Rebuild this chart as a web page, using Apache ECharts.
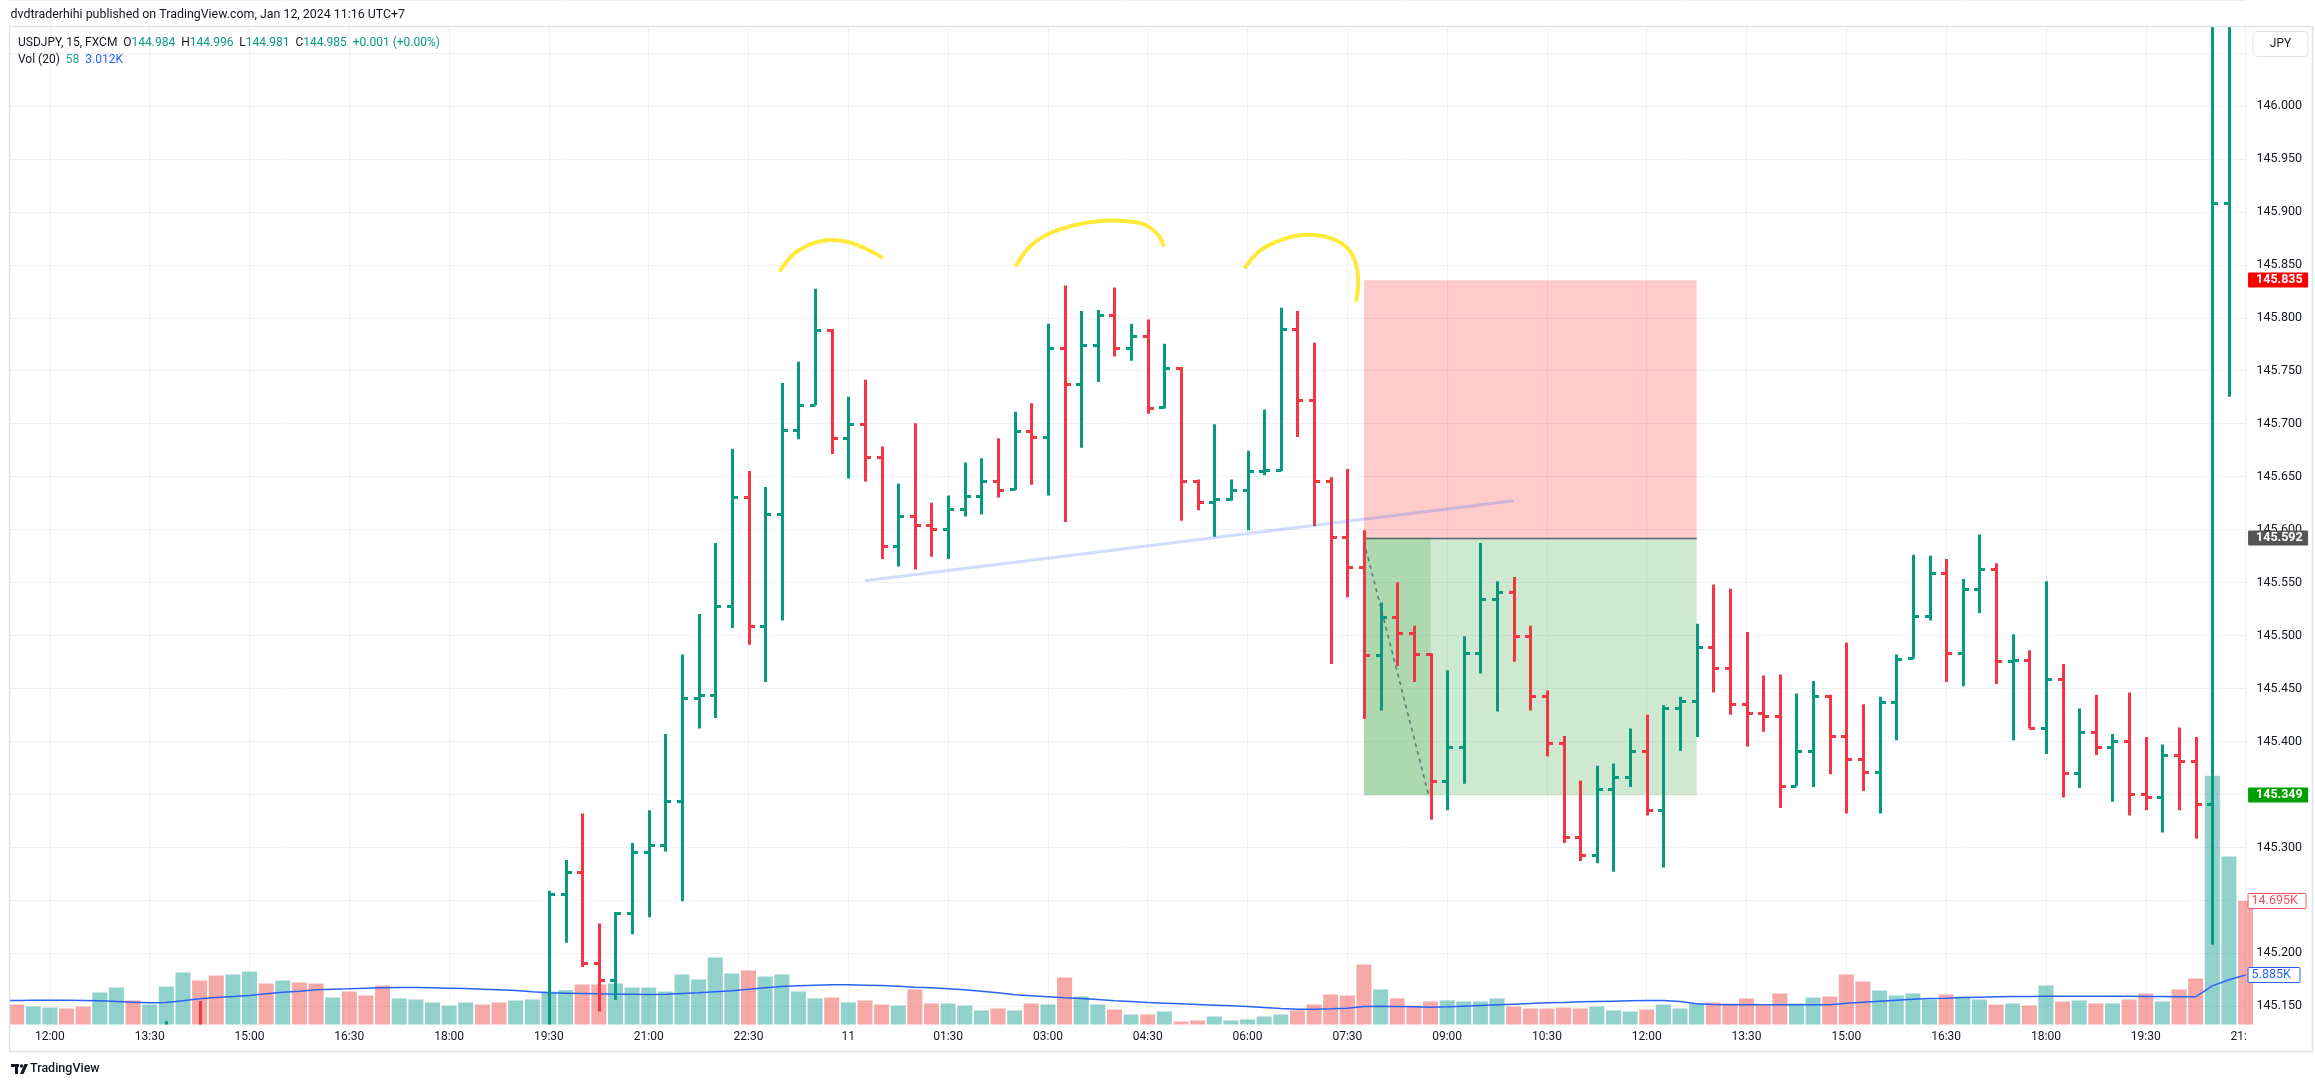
<!DOCTYPE html>
<html>
<head>
<meta charset="utf-8">
<title>USDJPY, 15, FXCM</title>
<script src="https://cdn.jsdelivr.net/npm/echarts/dist/echarts.min.js"></script>
<style>
html,body{margin:0;padding:0;background:#ffffff;overflow:hidden}
#chart{width:2315px;height:1087px}
</style>
</head>
<body>
<div id="chart"></div>
<script>
// ---------------- DATA ----------------
// 15-minute bars, 2024-01-10 11:15 .. 2024-01-11 21:00 (UTC+7)
const categories = [];
for (let k = 0; k < 136; k++) {
  const m = 11 * 60 + 15 + 15 * k;
  const day = 10 + Math.floor(m / 1440);
  const t = m % 1440;
  categories.push('01-' + day + ' ' + String(Math.floor(t / 60)).padStart(2, '0') + ':' + String(t % 60).padStart(2, '0'));
}
const tickCategories = ['01-10 12:00','01-10 13:30','01-10 15:00','01-10 16:30','01-10 18:00','01-10 19:30','01-10 21:00','01-10 22:30','01-11 00:00','01-11 01:30','01-11 03:00','01-11 04:30','01-11 06:00','01-11 07:30','01-11 09:00','01-11 10:30','01-11 12:00','01-11 13:30','01-11 15:00','01-11 16:30','01-11 18:00','01-11 19:30','01-11 21:00'];
const tickLabels = ['12:00','13:30','15:00','16:30','18:00','19:30','21:00','22:30','11','01:30','03:00','04:30','06:00','07:30','09:00','10:30','12:00','13:30','15:00','16:30','18:00','19:30','21:00'];

const opens = [
 null,null,null,null,null,null,null,null,null,null,
 145.095,null,145.120,null,null,null,null,null,null,null,
 null,null,null,null,null,null,null,null,null,null,
 null,null,null,145.080,145.256,145.277,145.191,145.175,145.238,145.296,
 145.302,145.344,145.441,145.444,145.528,145.630,145.509,145.614,145.694,145.717,
 145.788,145.686,145.699,145.668,145.584,145.613,145.604,145.600,145.619,145.631,
 145.646,145.638,145.693,145.687,145.771,145.737,145.774,145.802,145.771,145.782,
 145.715,145.752,145.646,145.626,145.629,145.637,145.655,145.656,145.789,145.722,
 145.646,145.593,145.564,145.481,145.517,145.502,145.482,145.363,145.395,145.483,
 145.534,145.541,145.499,145.443,145.398,145.310,145.293,145.355,145.366,145.391,
 145.335,145.431,145.438,145.489,145.469,145.435,145.427,145.424,145.358,145.391,
 145.443,145.405,145.383,145.371,145.437,145.479,145.518,145.559,145.483,145.544,
 145.563,145.476,145.477,145.413,145.459,145.370,145.409,145.395,145.400,145.350,
 145.347,145.387,145.381,145.341,145.908,null];
const highs = [
 null,null,null,null,null,null,null,null,null,null,
 145.136,null,145.155,null,null,null,null,null,null,null,
 null,null,null,null,null,null,null,null,null,null,
 null,null,null,145.259,145.288,145.332,145.228,145.239,145.304,145.335,
 145.407,145.482,145.520,145.587,145.676,145.655,145.640,145.738,145.758,145.827,
 145.789,145.725,145.741,145.678,145.643,145.700,145.625,145.632,145.663,145.667,
 145.686,145.711,145.719,145.794,145.830,145.806,145.807,145.828,145.794,145.798,
 145.775,145.753,145.647,145.699,145.647,145.674,145.713,145.809,145.806,145.776,
 145.649,145.657,145.599,145.531,145.550,145.509,145.483,145.467,145.499,145.587,
 145.551,145.555,145.509,145.448,145.405,145.363,145.377,145.379,145.412,145.425,
 145.434,145.442,145.511,145.548,145.544,145.503,145.462,145.463,145.445,145.457,
 145.444,145.493,145.435,145.442,145.482,145.576,145.575,145.572,145.553,145.595,
 145.568,145.501,145.486,145.551,145.473,145.431,145.444,145.407,145.446,145.404,
 145.397,145.413,145.404,146.400,146.350,null];
const lows = [
 null,null,null,null,null,null,null,null,null,null,
 145.060,null,145.070,null,null,null,null,null,null,null,
 null,null,null,null,null,null,null,null,null,null,
 null,null,null,145.060,145.210,145.187,145.145,145.156,145.218,145.234,
 145.296,145.249,145.412,145.422,145.507,145.491,145.456,145.514,145.685,145.717,
 145.671,145.648,145.645,145.572,145.565,145.562,145.574,145.572,145.612,145.614,
 145.630,145.637,145.642,145.632,145.607,145.677,145.739,145.763,145.759,145.709,
 145.714,145.608,145.618,145.593,145.627,145.599,145.651,145.655,145.687,145.603,
 145.473,145.536,145.421,145.429,145.471,145.456,145.326,145.335,145.360,145.464,
 145.428,145.475,145.429,145.386,145.304,145.287,145.285,145.277,145.357,145.330,
 145.281,145.391,145.404,145.446,145.425,145.395,145.409,145.337,145.358,145.357,
 145.369,145.332,145.353,145.332,145.401,145.478,145.514,145.456,145.452,145.521,
 145.454,145.401,145.412,145.388,145.347,145.356,145.387,145.343,145.330,145.335,
 145.314,145.335,145.308,145.208,145.725,null];
const closes = [
 null,null,null,null,null,null,null,null,null,null,
 145.110,null,145.090,null,null,null,null,null,null,null,
 null,null,null,null,null,null,null,null,null,null,
 null,null,null,145.256,145.277,145.191,145.175,145.238,145.296,145.302,
 145.344,145.441,145.444,145.528,145.630,145.509,145.614,145.694,145.717,145.788,
 145.686,145.699,145.668,145.584,145.613,145.604,145.600,145.619,145.631,145.646,
 145.637,145.693,145.687,145.771,145.737,145.774,145.802,145.771,145.782,145.714,
 145.752,145.646,145.626,145.629,145.637,145.655,145.656,145.789,145.722,145.646,
 145.593,145.564,145.481,145.517,145.502,145.482,145.363,145.395,145.483,145.534,
 145.541,145.499,145.443,145.398,145.310,145.293,145.355,145.366,145.391,145.335,
 145.431,145.438,145.489,145.469,145.435,145.427,145.424,145.358,145.391,145.443,
 145.405,145.383,145.371,145.437,145.478,145.518,145.559,145.483,145.544,145.563,
 145.476,145.477,145.413,145.459,145.370,145.409,145.395,145.400,145.350,145.347,
 145.387,145.381,145.341,145.908,146.150,null];

// volume in thousands
const volumes = [null,
 2.38,2.14,2.02,1.90,2.14,3.81,4.40,2.86,2.38,4.52,
 6.19,5.24,5.83,5.95,6.31,4.88,5.24,5.00,4.88,3.21,
 3.93,3.45,4.64,3.10,2.98,2.62,2.26,2.62,2.38,2.62,
 2.86,2.98,3.93,4.09,4.76,4.76,4.88,4.40,4.40,3.93,
 5.95,5.36,7.98,6.07,6.43,5.71,5.95,3.93,3.10,3.21,
 2.62,2.86,2.38,2.26,4.17,2.50,2.50,2.26,1.67,1.90,
 1.67,2.50,2.38,5.60,3.33,2.38,1.79,1.19,1.19,1.55,
 0.36,0.48,0.95,0.48,0.60,0.95,1.19,1.67,2.38,3.57,
 3.45,7.14,4.17,3.10,2.26,2.74,2.86,2.74,2.74,3.10,
 2.14,1.90,1.90,2.02,1.90,2.14,1.67,1.55,1.79,2.38,
 1.90,2.50,2.62,2.50,3.10,2.26,3.69,2.50,3.21,3.33,
 5.95,5.12,4.05,3.45,3.69,2.98,3.57,3.33,2.98,2.38,
 2.50,2.26,4.64,2.74,2.86,2.50,2.50,2.98,3.69,2.74,
 4.17,5.48,29.6,20.0,14.695];
// u = up bar, d = down bar
const volumeDirection = ['-'].concat((
 'duudduuduu' + 'udduududdu' + 'ddduuuuudd' + 'uuuudduuuu' + 'uuuuduuuud' +
 'uddudduuud' + 'ududuududu' + 'dduuuuuddd' + 'dduddduuuu' + 'ddddduuudu' +
 'uuddddduud' + 'dduuuuduud' + 'ududududdu' + 'dduud').split(''));
const volumeMA = [2.86,
 2.86,2.90,2.90,2.90,2.86,2.82,2.74,2.66,2.58,2.62,
 2.82,3.06,3.21,3.33,3.45,3.65,3.85,3.97,4.13,4.21,
 4.25,4.33,4.37,4.40,4.40,4.37,4.33,4.29,4.21,4.13,
 4.05,3.89,3.77,3.73,3.69,3.65,3.61,3.61,3.57,3.61,
 3.69,3.77,3.89,4.01,4.21,4.37,4.52,4.60,4.68,4.72,
 4.72,4.68,4.64,4.56,4.44,4.37,4.25,4.13,3.97,3.77,
 3.53,3.41,3.29,3.17,3.10,2.98,2.82,2.74,2.62,2.54,
 2.46,2.38,2.30,2.22,2.14,2.02,1.90,1.83,1.83,1.87,
 1.94,2.14,2.18,2.14,2.10,2.06,2.10,2.18,2.26,2.34,
 2.42,2.50,2.58,2.62,2.70,2.74,2.78,2.82,2.86,2.86,
 2.74,2.46,2.38,2.34,2.34,2.34,2.34,2.34,2.34,2.34,
 2.54,2.66,2.78,2.90,3.02,3.10,3.13,3.21,3.25,3.29,
 3.33,3.33,3.37,3.37,3.37,3.37,3.37,3.37,3.33,3.33,
 3.29,3.29,4.60,5.32,5.885];

// price-axis ticks
const priceTickMin = 145.15, priceTickMax = 146.10, priceTickStep = 0.05;

// drawings (x = category index, y = price)
const positionEntry = 145.592, positionStop = 145.835, positionTarget = 145.349;
const positionSpan = [82, 102];
const positionFilled = [82, 86];
const positionPath = [[82.12, 145.581], [85.89, 145.349]];
const necklinePoints = [[52, 145.5515], [91, 145.627]];
const arcs = [
 [[46.92,145.8446],[47.65,145.8588],[48.61,145.8682],[49.81,145.8729],[51.01,145.8710],[52.09,145.8644],[52.99,145.8569]],
 [[61.11,145.8493],[61.95,145.8673],[63.15,145.8795],[64.65,145.8871],[66.16,145.8908],[67.66,145.8908],[68.86,145.8871],[69.64,145.8776],[69.94,145.8682]],
 [[74.87,145.8475],[75.65,145.8616],[76.67,145.8710],[77.87,145.8767],[79.08,145.8776],[80.16,145.8738],[81.0,145.8654],[81.48,145.8522],[81.66,145.8352],[81.54,145.8163]]
];

// header / legend texts
const headerText = 'dvdtraderhihi published on TradingView.com, Jan 12, 2024 11:16 UTC+7';
const legendSymbol = 'USDJPY, 15, FXCM';
const legendOHLC = ['144.984', '144.996', '144.981', '144.985'];
const legendChange = '+0.001 (+0.00%)';
const legendVol = ['Vol (20)', '58', '3.012K'];

// ---------------- STYLE / LAYOUT ----------------
const FONT = 'Roboto, "Noto Sans", sans-serif';
const TEXT = '#131722';
const UP = '#089981', DOWN = '#f23645';
const VOL_UP = 'rgba(38,166,154,0.5)', VOL_DOWN = 'rgba(239,83,80,0.5)';
const GRID = '#f0f1f3';
const LEFT = -0.84, STEP = 16.64;
const PX_PER_YEN = 1060, AXIS_TOP = -0.7;
const PANE_TOP = 27, PANE_BOTTOM = 1024.5;
const VOL_PX_PER_K = 8.4;
const PLOT_W = STEP * (categories.length - 1);
const P_TOP = priceTickMax - (PANE_TOP - AXIS_TOP) / PX_PER_YEN;
const P_BOT = priceTickMax - (PANE_BOTTOM - AXIS_TOP) / PX_PER_YEN;

const tickSet = new Set(tickCategories);
const tickMap = {};
tickCategories.forEach((c, i) => tickMap[c] = tickLabels[i]);

function kx(api, k, p) {
  const k0 = Math.floor(k);
  const a = api.coord([k0, p]);
  if (k === k0) return a;
  const b = api.coord([k0 + 1, p]);
  return [a[0] + (k - k0) * (b[0] - a[0]), a[1]];
}

const ohlcData = [];
for (let k = 0; k < categories.length; k++) {
  if (opens[k] != null) ohlcData.push([k, opens[k], highs[k], lows[k], closes[k]]);
}

function renderBar(params, api) {
  const k = api.value(0), o = api.value(1), h = api.value(2), l = api.value(3), c = api.value(4);
  const pt = api.coord([k, h]), pb = api.coord([k, l]);
  const yo = Math.round(api.coord([k, o])[1]) + 0.5;
  const yc = Math.round(api.coord([k, c])[1]) + 0.5;
  const x = Math.round(pt[0]) + 0.5;
  const st = { stroke: c >= o ? UP : DOWN, lineWidth: 3, lineCap: 'butt' };
  return { type: 'group', children: [
    { type: 'line', shape: { x1: x, y1: pt[1], x2: x, y2: pb[1] }, style: st },
    { type: 'line', shape: { x1: x - 5.5, y1: yo, x2: x, y2: yo }, style: st },
    { type: 'line', shape: { x1: x, y1: yc, x2: x + 5.5, y2: yc }, style: st }
  ]};
}

const chart = echarts.init(document.getElementById('chart'), null, { renderer: 'canvas' });

const option = {
  animation: false,
  backgroundColor: '#ffffff',
  textStyle: { fontFamily: FONT },
  grid: [
    { left: LEFT, top: AXIS_TOP, width: PLOT_W, height: (priceTickMax - priceTickMin) * PX_PER_YEN },
    { left: LEFT, top: PANE_TOP, width: PLOT_W, height: PANE_BOTTOM - PANE_TOP }
  ],
  xAxis: [
    { gridIndex: 0, type: 'category', data: categories, boundaryGap: false, show: false },
    { gridIndex: 1, type: 'category', data: categories, boundaryGap: false,
      axisLine: { show: false }, axisTick: { show: false },
      axisLabel: { interval: (i, v) => tickSet.has(v), formatter: v => tickMap[v] || '',
        color: TEXT, fontSize: 12, fontFamily: FONT, margin: 6, hideOverlap: false },
      splitLine: { show: true, interval: (i, v) => tickSet.has(v), lineStyle: { color: GRID, width: 1 } } }
  ],
  yAxis: [
    { gridIndex: 0, type: 'value', position: 'right', min: priceTickMin, max: priceTickMax, interval: priceTickStep,
      axisLine: { show: false }, axisTick: { show: false },
      splitLine: { show: true, lineStyle: { color: GRID, width: 1 } },
      axisLabel: { margin: 11, color: TEXT, fontSize: 12.5, fontFamily: FONT,
        formatter: v => (v > 146.001 ? '' : v.toFixed(3)) } },
    { gridIndex: 1, type: 'value', min: P_BOT, max: P_TOP, show: false, splitLine: { show: false } },
    { gridIndex: 1, type: 'value', min: 0, max: (PANE_BOTTOM - PANE_TOP) / VOL_PX_PER_K, show: false, splitLine: { show: false } }
  ],
  series: [
    { type: 'bar', name: 'Volume', xAxisIndex: 1, yAxisIndex: 2, barWidth: 15, z: 1, silent: true,
      data: volumes.map((v, k) => v == null ? null : { value: v, itemStyle: { color: volumeDirection[k] === 'u' ? VOL_UP : VOL_DOWN } }) },
    { type: 'line', name: 'Vol MA', xAxisIndex: 1, yAxisIndex: 2, data: volumeMA, symbol: 'none', z: 2, silent: true,
      lineStyle: { color: '#2962ff', width: 1.5 } },
    { type: 'custom', name: 'Position', xAxisIndex: 1, yAxisIndex: 1, z: 1, silent: true, clip: true,
      data: [[positionSpan[0], positionEntry]], encode: { x: 0, y: 1 },
      renderItem: (params, api) => {
        const box = (k1, k2, p1, p2, fill) => {
          const a = kx(api, k1, p1), b = kx(api, k2, p2);
          return { type: 'rect', shape: { x: a[0], y: Math.min(a[1], b[1]), width: b[0] - a[0], height: Math.abs(b[1] - a[1]) }, style: { fill } };
        };
        const e1 = kx(api, positionSpan[0], positionEntry), e2 = kx(api, positionSpan[1], positionEntry);
        return { type: 'group', children: [
          box(positionSpan[0], positionSpan[1], positionStop, positionEntry, 'rgba(255,82,82,0.3)'),
          box(positionSpan[0], positionSpan[1], positionEntry, positionTarget, 'rgba(76,175,80,0.27)'),
          box(positionFilled[0], positionFilled[1], positionEntry, positionTarget, 'rgba(76,175,80,0.27)'),
          { type: 'line', shape: { x1: e1[0], y1: Math.round(e1[1]) + 0.5, x2: e2[0], y2: Math.round(e2[1]) + 0.5 }, style: { stroke: '#5d606b', lineWidth: 1.5 } }
        ]};
      } },
    { type: 'custom', name: 'USDJPY', xAxisIndex: 1, yAxisIndex: 1, z: 3, silent: true, clip: true,
      data: ohlcData, encode: { x: 0, y: [1, 2, 3, 4] }, renderItem: renderBar },
    { type: 'custom', name: 'Drawings', xAxisIndex: 1, yAxisIndex: 1, z: 4, silent: true, clip: true,
      data: [[necklinePoints[0][0], necklinePoints[0][1]]], encode: { x: 0, y: 1 },
      renderItem: (params, api) => {
        const ch = [];
        const n1 = kx(api, necklinePoints[0][0], necklinePoints[0][1]), n2 = kx(api, necklinePoints[1][0], necklinePoints[1][1]);
        ch.push({ type: 'line', shape: { x1: n1[0], y1: n1[1], x2: n2[0], y2: n2[1] }, style: { stroke: 'rgba(41,98,255,0.22)', lineWidth: 3 } });
        const d1 = kx(api, positionPath[0][0], positionPath[0][1]), d2 = kx(api, positionPath[1][0], positionPath[1][1]);
        ch.push({ type: 'line', shape: { x1: d1[0], y1: d1[1], x2: d2[0], y2: d2[1] }, style: { stroke: '#6a6d78', lineWidth: 1.5, lineDash: [4, 4] } });
        arcs.forEach(a => ch.push({ type: 'polyline', shape: { points: a.map(p => kx(api, p[0], p[1])), smooth: 0.35 },
          style: { stroke: '#ffe93b', lineWidth: 4, lineCap: 'round', lineJoin: 'round', fill: 'none' } }));
        return { type: 'group', children: ch };
      } },
    { type: 'custom', name: 'Price tags', xAxisIndex: 1, yAxisIndex: 1, z: 20, silent: true, clip: false,
      data: [[0, positionStop], [0, positionEntry], [0, positionTarget]], encode: { x: 0, y: 1 },
      renderItem: (params, api) => {
        const p = api.value(1);
        const y = Math.round(api.coord([0, p])[1]);
        const x0 = params.coordSys.x + params.coordSys.width + 2.5;
        const fill = ['#ff0000', '#555555', '#00a000'][params.dataIndex];
        return { type: 'group', children: [
          { type: 'rect', shape: { x: x0, y: y - 7.5, width: 60, height: 15, r: 1 }, style: { fill } },
          { type: 'text', style: { text: p.toFixed(3), x: x0 + 8, y: y, fill: '#ffffff', font: 'bold 12.5px ' + FONT, align: 'left', verticalAlign: 'middle' } }
        ]};
      } },
    { type: 'custom', name: 'Volume tags', xAxisIndex: 1, yAxisIndex: 2, z: 20, silent: true, clip: false,
      data: [[0, volumes[volumes.length - 1]], [0, volumeMA[volumeMA.length - 1]]], encode: { x: 0, y: 1 },
      renderItem: (params, api) => {
        const v = api.value(1);
        const y = Math.round(api.coord([0, v])[1]);
        const x0 = params.coordSys.x + params.coordSys.width + 2;
        const col = ['#f7525f', '#2962ff'][params.dataIndex];
        const w = [58, 52][params.dataIndex];
        return { type: 'group', children: [
          { type: 'rect', shape: { x: x0 + 0.5, y: y - 7.5, width: w, height: 15, r: 1 }, style: { fill: '#ffffff', stroke: col, lineWidth: 1 } },
          { type: 'text', style: { text: v.toFixed(3) + 'K', x: x0 + 4, y: y, fill: col, font: '12.5px ' + FONT, align: 'left', verticalAlign: 'middle' } }
        ]};
      } }
  ],
  graphic: [
    { type: 'rect', z: 100, silent: true, shape: { x: 0, y: 0, width: 9.5, height: 1087 }, style: { fill: '#ffffff' } },
    { type: 'rect', z: 100, silent: true, shape: { x: 2246, y: 1026, width: 69, height: 25 }, style: { fill: '#ffffff' } },
    { type: 'rect', z: 101, silent: true, shape: { x: 9.5, y: 26.5, width: 2303, height: 1025 }, style: { fill: 'none', stroke: '#e0e3eb', lineWidth: 1.5 } },
    { type: 'text', z: 102, silent: true, x: 10.5, y: 15,
      style: { text: headerText, fill: TEXT, font: '12.4px ' + FONT, verticalAlign: 'middle' } },
    { type: 'text', z: 102, silent: true, x: 18, y: 43,
      style: { text: '{d|' + legendSymbol + '}  {d|O}{g|' + legendOHLC[0] + '}  {d|H}{g|' + legendOHLC[1] + '}  {d|L}{g|' + legendOHLC[2] + '}  {d|C}{g|' + legendOHLC[3] + '}  {g|' + legendChange + '}',
        font: '12px ' + FONT, verticalAlign: 'middle',
        rich: { d: { fill: TEXT, color: TEXT, font: '12px ' + FONT }, g: { fill: UP, color: UP, font: '12px ' + FONT } } } },
    { type: 'text', z: 102, silent: true, x: 18, y: 59.5,
      style: { text: '{d|' + legendVol[0] + '}  {g|' + legendVol[1] + '}  {b|' + legendVol[2] + '}',
        font: '12px ' + FONT, verticalAlign: 'middle',
        rich: { d: { fill: TEXT, color: TEXT, font: '12px ' + FONT }, g: { fill: '#22ab94', color: '#22ab94', font: '12px ' + FONT }, b: { fill: '#2962ff', color: '#2962ff', font: '12px ' + FONT } } } },
    { type: 'rect', z: 102, silent: true, shape: { x: 2253, y: 31.5, width: 55, height: 25, r: 4 }, style: { fill: '#ffffff', stroke: '#e0e3eb', lineWidth: 1 } },
    { type: 'text', z: 103, silent: true, x: 2280.5, y: 44,
      style: { text: 'JPY', fill: TEXT, font: '12px ' + FONT, align: 'center', verticalAlign: 'middle' } },
    { type: 'rect', z: 102, silent: true, shape: { x: 11, y: 1064, width: 8, height: 3 }, style: { fill: TEXT } },
    { type: 'rect', z: 102, silent: true, shape: { x: 15, y: 1064, width: 3, height: 10 }, style: { fill: TEXT } },
    { type: 'circle', z: 102, silent: true, shape: { cx: 21.5, cy: 1066, r: 1.7 }, style: { fill: TEXT } },
    { type: 'polygon', z: 102, silent: true, shape: { points: [[20, 1074], [24.5, 1064], [28, 1064], [23.5, 1074]] }, style: { fill: TEXT } },
    { type: 'text', z: 102, silent: true, x: 30, y: 1069,
      style: { text: 'TradingView', fill: TEXT, font: '500 12.5px ' + FONT, verticalAlign: 'middle' } }
  ]
};
chart.setOption(option);
</script>
</body>
</html>
